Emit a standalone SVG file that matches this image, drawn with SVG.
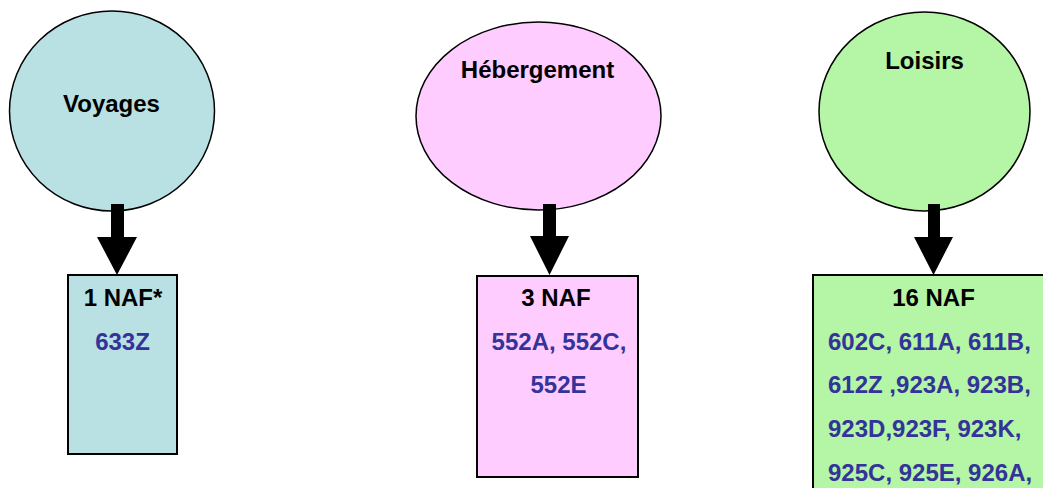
<svg xmlns="http://www.w3.org/2000/svg" width="1043" height="488" viewBox="0 0 1043 488">
<style>
.t{font-family:"Liberation Sans",Arial,sans-serif;font-weight:bold;font-size:24px;text-anchor:middle;fill:#000}
.b{fill:#333399}
.l{text-anchor:start}
.o{stroke:#000;stroke-width:1.5}
.r{stroke:#000;stroke-width:2}
.a{fill:#000}
</style>
<rect width="1043" height="488" fill="#fff"/>
<g id="voyages">
<ellipse class="o" cx="112" cy="111" rx="102.5" ry="100" fill="#B9E0E3"/>
<text class="t" x="111.5" y="112">Voyages</text>
</g>
<g id="hebergement">
<ellipse class="o" cx="538.5" cy="116" rx="122.5" ry="94" fill="#FFCCFF"/>
<text class="t" x="537.5" y="78">Hébergement</text>
</g>
<g id="loisirs">
<ellipse class="o" cx="924.5" cy="111.5" rx="105.5" ry="99.5" fill="#B5F5A6"/>
<text class="t" x="924.5" y="69">Loisirs</text>
</g>
<g id="box-voyages">
<rect class="r" x="68" y="275" width="109" height="179" fill="#B9E0E3"/>
<text class="t" x="123" y="306">1 NAF*</text>
<text class="t b" x="122.5" y="350">633Z</text>
</g>
<g id="box-hebergement">
<rect class="r" x="477" y="276" width="161" height="201" fill="#FFCCFF"/>
<text class="t" x="556" y="306">3 NAF</text>
<text class="t b" x="559" y="350">552A, 552C,</text>
<text class="t b" x="558.5" y="393">552E</text>
</g>
<g id="box-loisirs">
<rect class="r" x="813" y="275" width="242" height="230" fill="#B5F5A6"/>
<text class="t" x="933.5" y="306">16 NAF</text>
<text class="t b l" x="828" y="350">602C, 611A, 611B,</text>
<text class="t b l" x="828" y="393">612Z ,923A, 923B,</text>
<text class="t b l" x="828" y="437">923D,923F, 923K,</text>
<text class="t b l" x="828" y="481">925C, 925E, 926A,</text>
</g>
<g id="connectors">
<polygon class="a" points="111,204 124,204 124,237 137,237 117,275 97,237 111,237"/>
<polygon class="a" points="543,204 556,204 556,236 569,236 549.5,275 530,236 543,236"/>
<polygon class="a" points="928,204 940,204 940,237 953,237 933.5,275 914,237 928,237"/>
</g>
</svg>
